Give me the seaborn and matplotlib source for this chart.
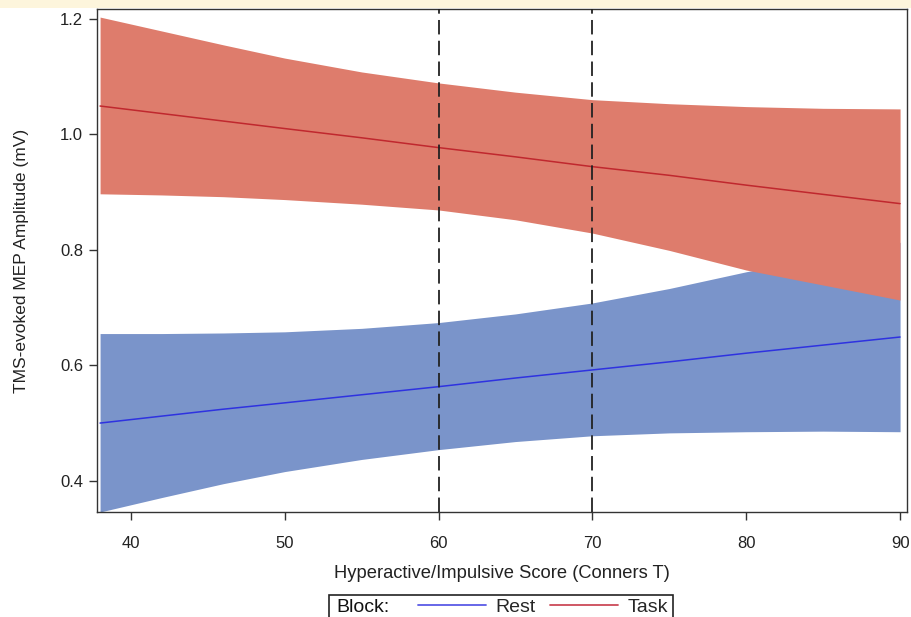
import matplotlib
matplotlib.use("Agg")
import matplotlib.pyplot as plt
from matplotlib.patches import Rectangle
import pandas as pd
import seaborn as sns

# values
score = [38, 42, 46, 50, 55, 60, 65, 70, 75, 80, 85, 90]

rest_fit = [0.500, 0.512, 0.524, 0.535, 0.549, 0.563, 0.578, 0.592, 0.606, 0.621, 0.635, 0.649]
rest_upper = [0.655, 0.655, 0.656, 0.658, 0.664, 0.674, 0.689, 0.708, 0.733, 0.762, 0.788, 0.813]
rest_lower = [0.346, 0.371, 0.395, 0.416, 0.437, 0.454, 0.468, 0.478, 0.483, 0.485, 0.486, 0.485]

task_fit = [1.049, 1.036, 1.023, 1.010, 0.994, 0.977, 0.961, 0.944, 0.929, 0.912, 0.896, 0.880]
task_upper = [1.203, 1.179, 1.155, 1.132, 1.108, 1.089, 1.073, 1.060, 1.053, 1.048, 1.045, 1.044]
task_lower = [0.897, 0.895, 0.892, 0.887, 0.879, 0.869, 0.852, 0.829, 0.799, 0.765, 0.739, 0.713]

cutoffs = [60, 70]
x_ticks = [40, 50, 60, 70, 80, 90]
y_ticks = [0.4, 0.6, 0.8, 1.0, 1.2]

sns.set_style("white")
plt.rcParams["font.family"] = ["Liberation Sans", "DejaVu Sans"]

df = pd.DataFrame({
    "score": score * 2,
    "fit": rest_fit + task_fit,
    "Block": ["Rest"] * len(score) + ["Task"] * len(score),
})

fig = plt.figure(figsize=(9.11, 6.17), dpi=100)
fig.patches.append(Rectangle((0, 1 - 8 / 617), 1, 8 / 617, transform=fig.transFigure,
                             facecolor="#fdf5dc", edgecolor="none", zorder=0))
ax = fig.add_axes([97 / 911, 1 - 512 / 617, 810 / 911, 503 / 617])

ax.fill_between(score, rest_lower, rest_upper, color="#7a94ca", linewidth=0, zorder=1)
ax.fill_between(score, task_lower, task_upper, color="#de7c6c", linewidth=0, zorder=2)

sns.lineplot(data=df, x="score", y="fit", hue="Block",
             palette={"Rest": "#2e32e0", "Task": "#c0282e"},
             linewidth=1.1, legend=False, ax=ax, zorder=3)

for c in cutoffs:
    ax.axvline(c, color="#222222", linewidth=1.3, dashes=(8, 3.5), zorder=4)

ax.set_xlim(37.8, 90.45)
ax.set_ylim(0.346, 1.217)
ax.set_xticks(x_ticks)
ax.set_yticks(y_ticks)
ax.set_yticklabels([f"{v:.1f}" for v in y_ticks])
ax.tick_params(axis="both", bottom=True, left=True, direction="out", length=6, width=1,
               color="#333333", labelsize=12, labelcolor="#222222", pad=4)
ax.tick_params(axis="x", pad=11)
for s in ax.spines.values():
    s.set_color("#333333")
    s.set_linewidth(1)

ax.set_xlabel("Hyperactive/Impulsive Score (Conners T)", fontsize=13.2, color="#222222", labelpad=10)
ax.set_ylabel("TMS-evoked MEP Amplitude (mV)", fontsize=12.5, color="#222222", labelpad=22)

# legend: "Block:" label + line entries inside one square frame
handles = [plt.Line2D([], [], color="#5a5ae6", linewidth=1.3),
           plt.Line2D([], [], color="#cc4a58", linewidth=1.3)]
fig.legend(handles, ["Rest", "Task"], loc="center left", ncol=2, frameon=False,
           bbox_to_anchor=(418 / 911, 1 - 607 / 617), fontsize=14,
           handlelength=3.5, handletextpad=0.5, columnspacing=0.7,
           borderaxespad=0, borderpad=0)
fig.text(336 / 911, 1 - 607 / 617, "Block:", fontsize=14, va="center", color="#111111")
fig.patches.append(Rectangle((329 / 911, -0.01), 344 / 911, 0.01 + 22 / 617,
                             transform=fig.transFigure, facecolor="none",
                             edgecolor="#222222", linewidth=1.2))

fig.savefig("out.png", dpi=100)
